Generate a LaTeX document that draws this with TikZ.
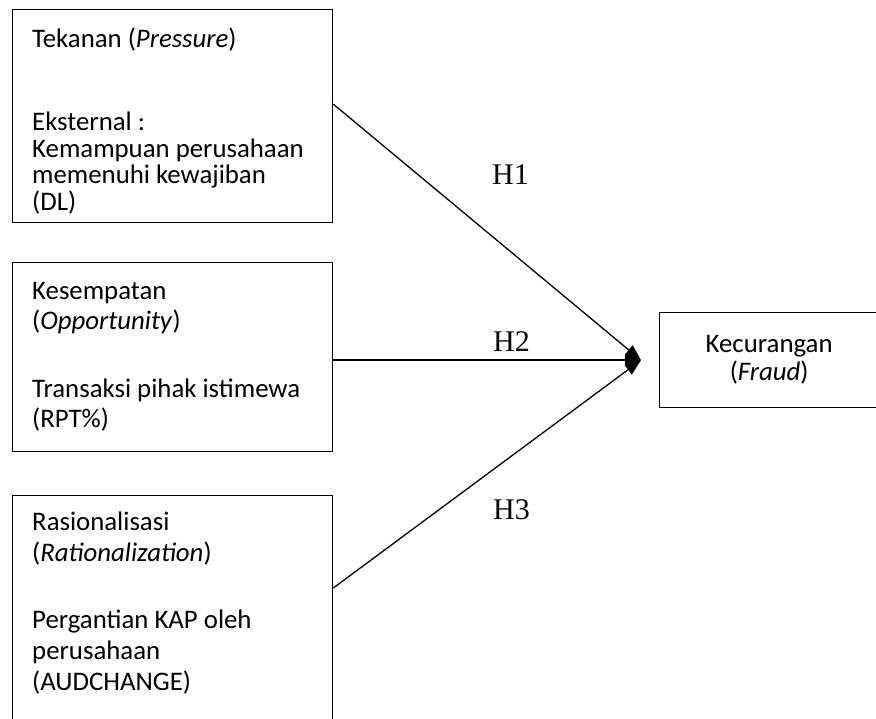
\documentclass[tikz,border=0pt]{standalone}
\usepackage{fontspec}
\setmainfont{Carlito}
\newfontfamily\hfont{Liberation Serif}
\usetikzlibrary{arrows.meta}
\begin{document}
\begin{tikzpicture}[x=1pt,y=-1pt,
  box/.style={draw, line width=1.3pt, anchor=north west, inner sep=0pt},
  txt/.style={anchor=north west, align=left, inner sep=0pt},
  hyp/.style={font=\hfont\fontsize{30}{36}\selectfont, anchor=base west, inner sep=0pt},
  conn/.style={line width=1.3pt, -{Triangle[length=16pt,width=12pt]}}]
\useasboundingbox (0,0) rectangle (876,719);
\clip (0,0) rectangle (876,719);
\node[box, minimum width=320pt, minimum height=213pt] (p1) at (12,9) {};
\node[box, minimum width=320pt, minimum height=189pt] (p2) at (12,262) {};
\node[box, minimum width=320pt, minimum height=260pt] (p3) at (12,495) {};
\node[box, minimum width=219pt, minimum height=95pt, align=center,
      font=\fontsize{26.8}{28}\selectfont] (f) at (659,312) {Kecurangan\\(\textit{Fraud})};
\node[txt, font=\fontsize{26.8}{26.5}\selectfont] (t1) at (32,25)
  {\rule{0pt}{22pt}Tekanan (\textit{Pressure})\\[57pt]Eksternal :\\Kemampuan perusahaan\\memenuhi kewajiban\\(DL)};
\node[txt, font=\fontsize{26.8}{30}\selectfont] (t2) at (32,277)
  {\rule{0pt}{22pt}Kesempatan\\(\textit{Opportunity})\\[38pt]Transaksi pihak istimewa\\(RPT\%)};
\node[txt, font=\fontsize{26.8}{31}\selectfont] (t3) at (32,508)
  {\rule{0pt}{22pt}Rasionalisasi\\(\textit{Rationalization})\\[36pt]Pergantian KAP oleh\\perusahaan\\(AUDCHANGE)};
\coordinate (tip) at ([xshift=-18pt]f.west);
\draw[conn] ([yshift=12pt]p1.east) -- (tip);
\draw[conn] (p2.east |- tip) -- (tip);
\draw[conn] ([yshift=-93pt]p3.north east) -- (tip);
\node[hyp] (h1) at (492,185) {H1};
\node[hyp] (h2) at (493,352) {H2};
\node[hyp] (h3) at (493,519) {H3};
\end{tikzpicture}
\end{document}
